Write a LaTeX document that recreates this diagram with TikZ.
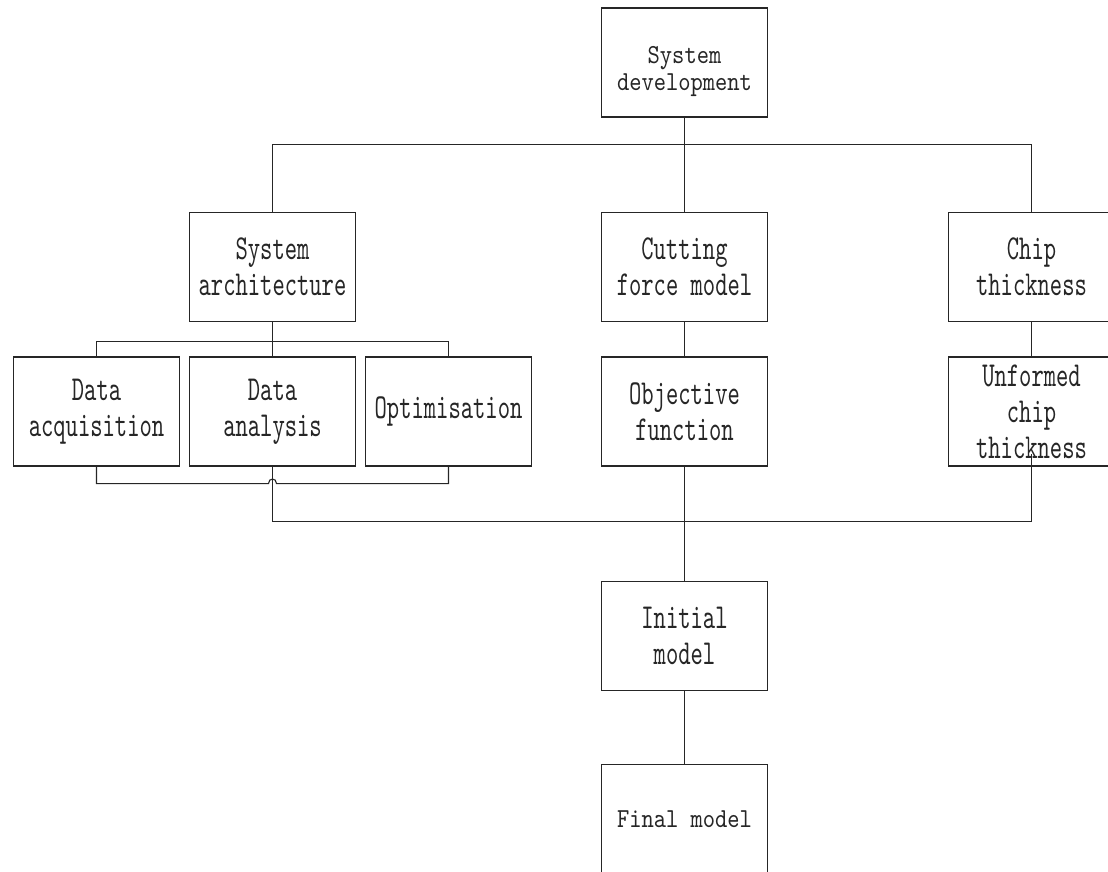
\documentclass[tikz,border=0pt]{standalone}
\usepackage{fontspec}
\newfontfamily\treefont[FakeStretch=0.67]{lmmono10-regular.otf}
\newfontfamily\flatfont[FakeStretch=0.85]{lmmono10-regular.otf}
\usetikzlibrary{calc}

\begin{document}
\begin{tikzpicture}[x=1pt, y=-1pt, node distance=144.5pt,
  main/.style = {draw, black!85, line width=1.1pt, text=black!85, inner sep=0pt,
    minimum width=166pt, minimum height=109pt, align=center,
    font=\treefont\fontsize{35}{36}\selectfont},
  flat/.style = {main, font=\flatfont\fontsize{27.5}{26.7}\selectfont},
  every path/.style = {line width=1.1pt, black!85}]
\useasboundingbox (0,0) rectangle (1108,871);

\node[flat] (dev) at (684.5,62.5) {\rule{0pt}{35pt}System\\development};
\node[main] (cut) [below of=dev, node distance=204.5pt] {Cutting\\force model};
\node[main] (arch) [left of=cut, node distance=412pt] {System\\architecture};
\node[main] (chip) [right of=cut, node distance=347pt] {Chip\\thickness};

\node[main] (ana) [below of=arch] {Data\\analysis};
\node[main] (acq) [left of=ana, node distance=176pt] {Data\\acquisition};
\node[main] (opt) [right of=ana, node distance=176pt] {Optimisation};
\node[main] (obj) [below of=cut] {Objective\\function};
\node[main] (unf) [below of=chip] {Unformed\\chip\\thickness};

\node[main] (init) [below of=obj, node distance=224.5pt] {Initial\\model};
\node[flat] (fin) [below of=init, node distance=183pt] {Final model};

% top level
\coordinate (split) at ($(dev.south)+(0,27)$);
\draw (dev.south) -- (split);
\draw (arch.north) |- (split) -| (chip.north);
\draw (split) -- (cut.north);

% architecture branch
\draw (arch.south) -- (ana.north);
\draw (acq.north) -- ++(0,-15) -| (opt.north);
\draw (acq.south) -- ++(0,17) -- ($(ana.south)+(-4,17)$)
  .. controls ($(ana.south)+(-4,11)$) and ($(ana.south)+(4,11)$) .. ($(ana.south)+(4,17)$)
  -| (opt.south);

% middle and right columns
\draw (cut.south) -- (obj.north);
\draw (chip.south) -- (unf.north);
\draw (ana.south) -- ++(0,55) -| ([yshift=13pt]unf.south);
\draw (obj.south) -- (init.north);
\draw (init.south) -- (fin.north);

\end{tikzpicture}
\end{document}
